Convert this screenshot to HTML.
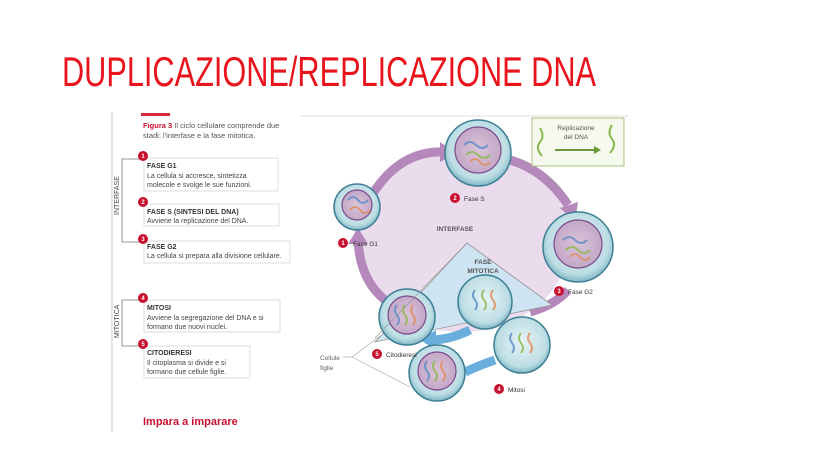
<!DOCTYPE html>
<html><head><meta charset="utf-8"><style>
html,body{margin:0;padding:0;background:#fff;width:828px;height:466px;overflow:hidden}
svg{display:block}
text{font-family:"Liberation Sans",sans-serif}
</style></head><body>
<svg width="828" height="466" viewBox="0 0 828 466" xmlns="http://www.w3.org/2000/svg">
<defs>
<radialGradient id="cell" cx="50%" cy="45%" r="55%">
<stop offset="0%" stop-color="#e8f4f6"/><stop offset="80%" stop-color="#bcdde4"/><stop offset="100%" stop-color="#7fb6c4"/>
</radialGradient>
<radialGradient id="nuc" cx="50%" cy="50%" r="50%">
<stop offset="0%" stop-color="#d9c4d8"/><stop offset="100%" stop-color="#c4a8c8"/>
</radialGradient>
</defs>
<text x="62" y="86" font-size="42" fill="#e8131b" textLength="534" lengthAdjust="spacingAndGlyphs">DUPLICAZIONE/REPLICAZIONE DNA</text>

<!-- panel -->
<line x1="112" y1="112" x2="112" y2="432" stroke="#ccc" stroke-width="1"/>
<line x1="300" y1="116" x2="628" y2="116" stroke="#ddd" stroke-width="1"/>
<rect x="141" y="113" width="29" height="3" fill="#d42a3a"/>
<text x="143" y="128" font-size="7.5" fill="#555"><tspan fill="#c8102e" font-weight="bold">Figura 3</tspan> Il ciclo cellulare comprende due</text>
<text x="143" y="138" font-size="7.5" fill="#555">stadi: l'interfase e la fase mitotica.</text>

<path d="M141 159 H122 V242 H141" fill="none" stroke="#777" stroke-width="0.8"/>
<text transform="translate(119 215) rotate(-90)" font-size="7" fill="#444">INTERFASE</text>
<path d="M141 300 H122 V346 H141" fill="none" stroke="#777" stroke-width="0.8"/>
<text transform="translate(119 338) rotate(-90)" font-size="7" fill="#444">MITOTICA</text>

<g font-size="7" fill="#444">
<rect x="144" y="158" width="134" height="33" fill="#fff" stroke="#ddd"/>
<text x="147" y="168" font-weight="bold" fill="#333">FASE G1</text>
<text x="147" y="178">La cellula si accresce, sintetizza</text>
<text x="147" y="187">molecole e svolge le sue funzioni.</text>
<rect x="144" y="204" width="135" height="22" fill="#fff" stroke="#ddd"/>
<text x="147" y="214" font-weight="bold" fill="#333">FASE S (SINTESI DEL DNA)</text>
<text x="147" y="223">Avviene la replicazione del DNA.</text>
<rect x="144" y="241" width="146" height="22" fill="#fff" stroke="#ddd"/>
<text x="147" y="249" font-weight="bold" fill="#333">FASE G2</text>
<text x="147" y="258">La cellula si prepara alla divisione cellulare.</text>
<rect x="144" y="300" width="136" height="32" fill="#fff" stroke="#ddd"/>
<text x="147" y="310" font-weight="bold" fill="#333">MITOSI</text>
<text x="147" y="320">Avviene la segregazione del DNA e si</text>
<text x="147" y="329">formano due nuovi nuclei.</text>
<rect x="144" y="346" width="106" height="32" fill="#fff" stroke="#ddd"/>
<text x="147" y="355" font-weight="bold" fill="#333">CITODIERESI</text>
<text x="147" y="365">Il citoplasma si divide e si</text>
<text x="147" y="374">formano due cellule figlie.</text>
</g>
<g fill="#c8102e">
<circle cx="143" cy="156" r="5"/><circle cx="143" cy="202" r="5"/><circle cx="143" cy="239" r="5"/>
<circle cx="143" cy="298" r="5"/><circle cx="143" cy="344" r="5"/>
</g>
<g font-size="6" fill="#fff" text-anchor="middle" font-weight="bold">
<text x="143" y="158">1</text><text x="143" y="204">2</text><text x="143" y="241">3</text><text x="143" y="300">4</text><text x="143" y="346">5</text>
</g>
<text x="143" y="425" font-size="11" font-weight="bold" fill="#c8102e">Impara a imparare</text>

<!-- diagram -->
<ellipse cx="462" cy="240" rx="108" ry="92" fill="#eadcec"/>
<path d="M372 195 Q400 150 445 152" fill="none" stroke="#b588bb" stroke-width="9"/>
<polygon points="440,142 456,153 440,162" fill="#b588bb"/>
<path d="M510 160 Q545 170 568 205" fill="none" stroke="#b588bb" stroke-width="9"/>
<polygon points="560,208 575,222 578,202" fill="#b588bb"/>
<path d="M568 290 Q555 305 530 312" fill="none" stroke="#b588bb" stroke-width="9"/>
<path d="M385 300 Q360 280 358 240" fill="none" stroke="#b588bb" stroke-width="9"/>
<polygon points="348,244 358,228 368,244" fill="#b588bb"/>
<polygon points="467,243 375,342 552,305" fill="#cfe4f2" stroke="#999" stroke-width="0.8"/>
<path d="M470 330 Q450 340 430 340" fill="none" stroke="#6aaede" stroke-width="9"/>
<polygon points="436,330 420,340 436,350" fill="#6aaede"/>
<path d="M495 360 Q480 365 465 372" fill="none" stroke="#6aaede" stroke-width="9"/>

<g stroke="#3d7f94" stroke-width="1.5">
<circle cx="357" cy="207" r="23" fill="url(#cell)"/>
<circle cx="478" cy="153" r="33" fill="url(#cell)"/>
<circle cx="578" cy="247" r="35" fill="url(#cell)"/>
<circle cx="485" cy="302" r="27" fill="url(#cell)"/>
<circle cx="522" cy="345" r="28" fill="url(#cell)"/>
<circle cx="407" cy="317" r="28" fill="url(#cell)"/>
<circle cx="437" cy="373" r="28" fill="url(#cell)"/>
</g>
<g stroke="#7a4a8a" stroke-width="1.2" fill="url(#nuc)">
<circle cx="357" cy="205" r="15"/>
<circle cx="478" cy="150" r="23"/>
<circle cx="578" cy="244" r="24"/>
<circle cx="407" cy="315" r="19"/>
<circle cx="437" cy="371" r="19"/>
</g>
<g fill="none" stroke-width="2" opacity="0.8">
<path d="M348 200 q5 -6 10 0 t10 0" stroke="#5a8cc9"/><path d="M350 210 q5 -6 10 0 t10 0" stroke="#e08c5a"/>
<path d="M464 145 q6 -6 12 0 t12 0" stroke="#5a8cc9"/><path d="M466 155 q6 -6 12 0 t12 0" stroke="#8ab84a"/><path d="M470 162 q5 -6 10 0 t10 0" stroke="#e08c5a"/>
<path d="M563 240 q6 -6 12 0 t12 0" stroke="#5a8cc9"/><path d="M566 250 q6 -6 12 0 t12 0" stroke="#8ab84a"/><path d="M570 257 q5 -6 10 0 t10 0" stroke="#e08c5a"/>
<path d="M397 305 q-4 5 0 10 t0 10" stroke="#5a8cc9"/><path d="M405 305 q-4 5 0 10 t0 10" stroke="#8ab84a"/><path d="M413 305 q-4 5 0 10 t0 10" stroke="#e08c5a"/>
<path d="M427 361 q-4 5 0 10 t0 10" stroke="#5a8cc9"/><path d="M435 361 q-4 5 0 10 t0 10" stroke="#8ab84a"/><path d="M443 361 q-4 5 0 10 t0 10" stroke="#e08c5a"/>
<path d="M475 290 q-4 5 0 10 t0 10" stroke="#5a8cc9"/><path d="M484 290 q-4 5 0 10 t0 10" stroke="#8ab84a"/><path d="M493 290 q-4 5 0 10 t0 10" stroke="#e08c5a"/>
<path d="M512 333 q-4 5 0 10 t0 10" stroke="#5a8cc9"/><path d="M521 333 q-4 5 0 10 t0 10" stroke="#8ab84a"/><path d="M530 333 q-4 5 0 10 t0 10" stroke="#e08c5a"/>
</g>

<rect x="532" y="118" width="92" height="48" fill="#f6faee" stroke="#aac080"/>
<path d="M540 128 q5 8 0 14 t2 14" fill="none" stroke="#8ab84a" stroke-width="2"/>
<path d="M612 125 q-5 8 0 14 t-2 14" fill="none" stroke="#8ab84a" stroke-width="2"/>
<line x1="555" y1="150" x2="595" y2="150" stroke="#6a9a3a" stroke-width="2"/>
<polygon points="594,146 601,150 594,154" fill="#6a9a3a"/>
<text x="576" y="130" font-size="6.5" fill="#555" text-anchor="middle">Replicazione</text>
<text x="576" y="139" font-size="6.5" fill="#555" text-anchor="middle">del DNA</text>

<path d="M343 357 H352 L380 336 M352 357 L410 387" fill="none" stroke="#aaa" stroke-width="0.7"/>
<path d="M375 338 L467 243 L552 305" fill="none" stroke="#999" stroke-width="0.7"/>

<g fill="#c8102e">
<circle cx="343" cy="243" r="5"/><circle cx="455" cy="198" r="5"/><circle cx="559" cy="291" r="5"/>
<circle cx="377" cy="354" r="5"/><circle cx="499" cy="389" r="5"/>
</g>
<g font-size="6" fill="#fff" text-anchor="middle" font-weight="bold">
<text x="343" y="245">1</text><text x="455" y="200">2</text><text x="559" y="293">3</text><text x="377" y="356">5</text><text x="499" y="391">4</text>
</g>
<g font-size="6.5" fill="#333">
<text x="353" y="246">Fase G1</text><text x="464" y="201">Fase S</text><text x="568" y="294">Fase G2</text>
<text x="386" y="357">Citodieresi</text><text x="508" y="392">Mitosi</text>
<text x="320" y="360" fill="#666">Cellule</text><text x="320" y="370" fill="#666">figlie</text>
</g>
<g font-size="6.5" fill="#555" font-weight="bold" text-anchor="middle">
<text x="455" y="231">INTERFASE</text>
<text x="483" y="264">FASE</text><text x="483" y="273">MITOTICA</text>
</g>
</svg>
</body></html>
